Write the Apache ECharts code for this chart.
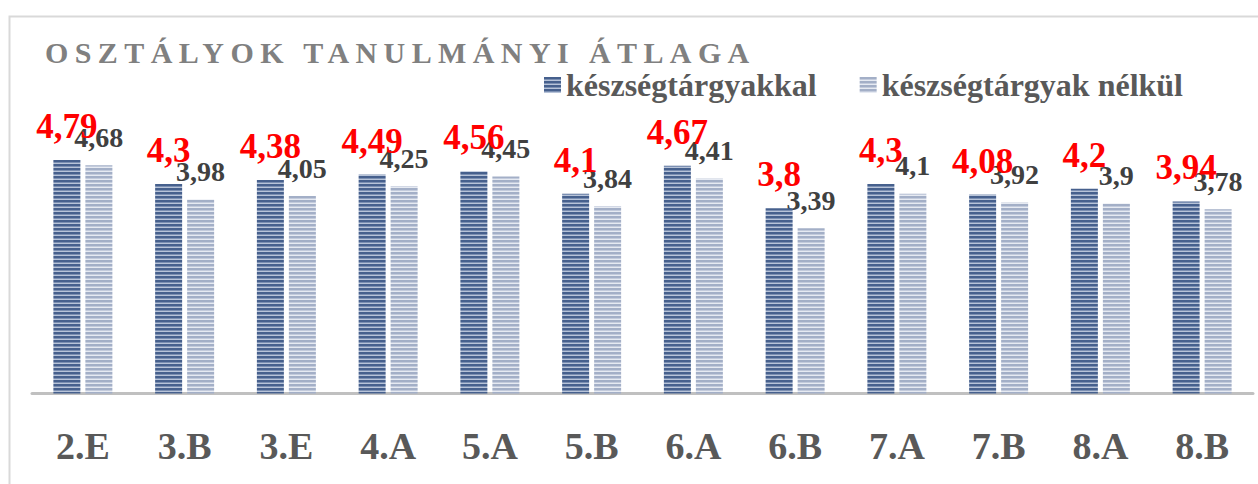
<!DOCTYPE html>
<html>
<head>
<meta charset="utf-8">
<script src="https://cdn.jsdelivr.net/npm/echarts@6/dist/echarts.min.js"></script>
<style>
html,body{margin:0;padding:0;background:#fff;}
#chart{width:1258px;height:484px;}
</style>
</head>
<body>
<div id="chart"></div>
<script>
const titleText = 'OSZTÁLYOK TANULMÁNYI ÁTLAGA';
const categories = ['2.E','3.B','3.E','4.A','5.A','5.B','6.A','6.B','7.A','7.B','8.A','8.B'];
const seriesNames = ['készségtárgyakkal','készségtárgyak nélkül'];
const withSkills = [4.79, 4.3, 4.38, 4.49, 4.56, 4.1, 4.67, 3.8, 4.3, 4.08, 4.2, 3.94];
const withoutSkills = [4.68, 3.98, 4.05, 4.25, 4.45, 3.84, 4.41, 3.39, 4.1, 3.92, 3.9, 3.78];

const serif = "'Liberation Serif', 'DejaVu Serif', serif";

function stripe(rows) {
  const c = document.createElement('canvas');
  c.width = 4; c.height = rows.length;
  const ctx = c.getContext('2d');
  rows.forEach((col, i) => { ctx.fillStyle = col; ctx.fillRect(0, i, 4, 1); });
  return { image: c.toDataURL(), repeat: 'repeat', imageWidth: 4, imageHeight: rows.length };
}
const darkPattern = stripe(['#46608d', '#46608d', '#7b8fb2', '#b7c3d8']);
const lightPattern = stripe(['#a3afc7', '#a3afc7', '#c3cbdc', '#e6eaf2']);

const fmt = p => String(p.value).replace('.', ',');

const chart = echarts.init(document.getElementById('chart'), null, { renderer: 'svg' });
chart.setOption({
  animation: false,
  backgroundColor: '#fff',
  graphic: [{
    type: 'rect', left: 7, top: 14,
    shape: { width: 1300, height: 600 },
    style: { fill: 'none', stroke: '#d9d9d9', lineWidth: 2 },
    silent: true
  }],
  title: {
    text: titleText, left: 40, top: 32,
    textStyle: { fontFamily: serif, fontSize: 30, fontWeight: 'bold', color: '#808080' }
  },
  legend: {
    left: 539, top: 64, itemWidth: 17, itemHeight: 16, itemGap: 43,
    icon: 'rect',
    textStyle: { fontFamily: serif, fontSize: 32, fontWeight: 'bold', color: '#595959' },
    data: seriesNames
  },
  grid: { left: 32, right: 5, top: 101, bottom: 90.5 },
  xAxis: {
    type: 'category', data: categories,
    axisLine: { lineStyle: { color: '#c0c0c0', width: 3 } },
    axisTick: { show: false },
    axisLabel: { fontFamily: serif, fontSize: 38, fontWeight: 'bold', color: '#595959', margin: 33 }
  },
  yAxis: {
    type: 'value', min: 0, max: 6, show: false,
    splitLine: { show: false }
  },
  series: [{
    name: seriesNames[0], type: 'bar', data: withSkills,
    barWidth: 27, barGap: '18.5%', z: 3,
    itemStyle: { color: darkPattern },
    label: { show: true, position: 'top', distance: 16, formatter: fmt,
      fontFamily: serif, fontSize: 35, fontWeight: 'bold', color: '#ff0000' }
  }, {
    name: seriesNames[1], type: 'bar', data: withoutSkills,
    barWidth: 27, z: 2,
    itemStyle: { color: lightPattern },
    label: { show: true, position: 'top', distance: 14, formatter: fmt,
      fontFamily: serif, fontSize: 28, fontWeight: 'bold', color: '#404040' }
  }]
});

function spaceTitle() {
  document.querySelectorAll('#chart svg text').forEach(t => {
    if (t.textContent === titleText) t.setAttribute('letter-spacing', '6.4');
  });
}
spaceTitle();
chart.on('finished', spaceTitle);
</script>
</body>
</html>
